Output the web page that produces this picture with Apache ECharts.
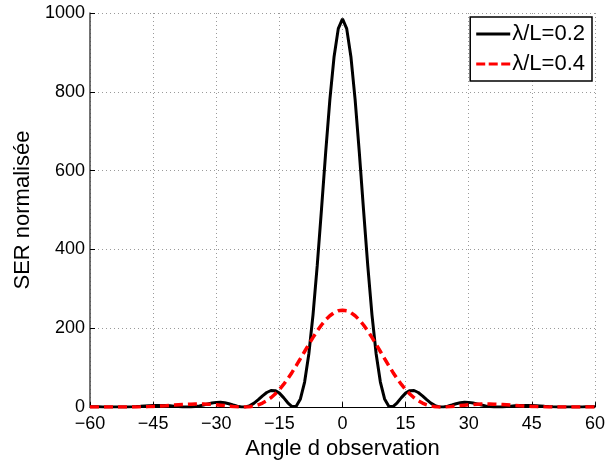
<!DOCTYPE html>
<html>
<head>
<meta charset="utf-8">
<script src="https://cdn.jsdelivr.net/npm/echarts@6/dist/echarts.min.js"></script>
<style>html,body{margin:0;padding:0;background:#fff;}#c{width:608px;height:465px;}</style>
</head>
<body>
<div id="c"></div>
<script>
const angles = [-60,-59,-58,-57,-56,-55,-54,-53,-52,-51,-50,-49,-48,-47,-46,-45,-44,-43,-42,-41,-40,-39,-38,-37,-36,-35,-34,-33,-32,-31,-30,-29,-28,-27,-26,-25,-24,-23,-22,-21,-20,-19,-18,-17,-16,-15,-14,-13,-12,-11,-10,-9,-8,-7,-6,-5,-4,-3,-2,-1,0,1,2,3,4,5,6,7,8,9,10,11,12,13,14,15,16,17,18,19,20,21,22,23,24,25,26,27,28,29,30,31,32,33,34,35,36,37,38,39,40,41,42,43,44,45,46,47,48,49,50,51,52,53,54,55,56,57,58,59,60];
const serLambda02 = [0.99,0.88,0.73,0.55,0.35,0.17,0.04,0.00,0.09,0.32,0.73,1.29,1.96,2.70,3.39,3.94,4.25,4.23,3.85,3.14,2.20,1.20,0.39,0.01,0.28,1.32,3.14,5.53,8.13,10.45,11.98,12.27,11.12,8.65,5.39,2.22,0.22,0.47,3.69,10.03,18.81,28.53,37.06,42.10,41.78,35.41,24.05,10.93,1.36,2.19,20.77,63.6,134.8,234.7,359.5,500.6,645.6,780.1,889.2,960.3,985,960.3,889.2,780.1,645.6,500.6,359.5,234.7,134.8,63.6,20.77,2.19,1.36,10.93,24.05,35.41,41.78,42.10,37.06,28.53,18.81,10.03,3.69,0.47,0.22,2.22,5.39,8.65,11.12,12.27,11.98,10.45,8.13,5.53,3.14,1.32,0.28,0.01,0.39,1.20,2.20,3.14,3.85,4.23,4.25,3.94,3.39,2.70,1.96,1.29,0.73,0.32,0.09,0.00,0.04,0.17,0.35,0.55,0.73,0.88,0.99];
const serLambda04 = [0.33,0.27,0.21,0.15,0.09,0.04,0.01,0.00,0.02,0.08,0.19,0.37,0.60,0.91,1.30,1.77,2.32,2.93,3.61,4.32,5.05,5.77,6.43,7.02,7.49,7.79,7.90,7.78,7.42,6.82,5.98,4.96,3.80,2.60,1.48,0.57,0.06,0.12,0.96,2.79,5.82,10.24,16.22,23.88,33.31,44.51,57.44,71.98,87.93,105.0,122.9,141.1,159.2,176.8,193.3,208.3,221.3,231.8,239.6,244.4,246,244.4,239.6,231.8,221.3,208.3,193.3,176.8,159.2,141.1,122.9,105.0,87.93,71.98,57.44,44.51,33.31,23.88,16.22,10.24,5.82,2.79,0.96,0.12,0.06,0.57,1.48,2.60,3.80,4.96,5.98,6.82,7.42,7.78,7.90,7.79,7.49,7.02,6.43,5.77,5.05,4.32,3.61,2.93,2.32,1.77,1.30,0.91,0.60,0.37,0.19,0.08,0.02,0.00,0.01,0.04,0.09,0.15,0.21,0.27,0.33];
const seriesNames = ['λ/L=0.2','λ/L=0.4'];
const xTicks = [-60,-45,-30,-15,0,15,30,45,60];
const yTicks = [0,200,400,600,800,1000];

const FONT = "'Liberation Sans', Arial, sans-serif";
const chart = echarts.init(document.getElementById('c'), null, {renderer:'canvas'});
const pair = (ys) => angles.map((a,i)=>[a, ys[i]]);
const gridLine = {show:true, lineStyle:{color:'#9a9a9a', type:[1,3], width:1}};
chart.setOption({
  animation:false,
  backgroundColor:'#fff',
  grid:{left:90, right:12, top:13, bottom:54, containLabel:false},
  legend:{
    orient:'vertical', right:16, top:17,
    backgroundColor:'#fff', borderColor:'#000', borderWidth:1.5,
    padding:[6,7,6,6], itemGap:8, itemWidth:34, itemHeight:3,
    textStyle:{fontFamily:FONT, fontSize:22, color:'#000', padding:[0,0,0,-3]},
    data:[
      {name:seriesNames[0], icon:'rect'},
      {name:seriesNames[1], icon:'path://M0,0h9v3h-9z M12.5,0h9v3h-9z M25,0h9v3h-9z'}
    ]
  },
  xAxis:{
    type:'value', min:-60, max:60, interval:15,
    name:'Angle d observation', nameLocation:'middle', nameGap:24,
    nameTextStyle:{fontFamily:FONT, fontSize:22, color:'#000'},
    axisLine:{show:true, onZero:false, lineStyle:{color:'#000', width:1}},
    axisTick:{show:true, inside:true, length:5, lineStyle:{color:'#000'}},
    axisLabel:{fontFamily:FONT, fontSize:18, color:'#000', margin:8,
      formatter:(v)=>String(v).replace('-','\u2212')},
    splitLine:gridLine
  },
  yAxis:{
    type:'value', min:0, max:1000, interval:200,
    name:'SER normalisée', nameLocation:'middle', nameGap:56, nameRotate:90,
    nameTextStyle:{fontFamily:FONT, fontSize:22, color:'#000'},
    axisLine:{show:true, onZero:false, lineStyle:{color:'#444', width:1.5}},
    axisTick:{show:true, inside:true, length:5, lineStyle:{color:'#000'}},
    axisLabel:{fontFamily:FONT, fontSize:18, color:'#000', margin:5,
      formatter:(v)=>String(v)},
    splitLine:gridLine
  },
  series:[
    {name:seriesNames[0], type:'line', data:pair(serLambda02), symbol:'none', smooth:false,
     lineStyle:{color:'#000', width:3}, itemStyle:{color:'#000'}, z:3},
    {name:seriesNames[1], type:'line', data:pair(serLambda04), symbol:'none', smooth:false,
     lineStyle:{color:'#ff0000', width:3.5, type:[9,5]}, itemStyle:{color:'#ff0000'}, z:4}
  ]
});
</script>
</body>
</html>
